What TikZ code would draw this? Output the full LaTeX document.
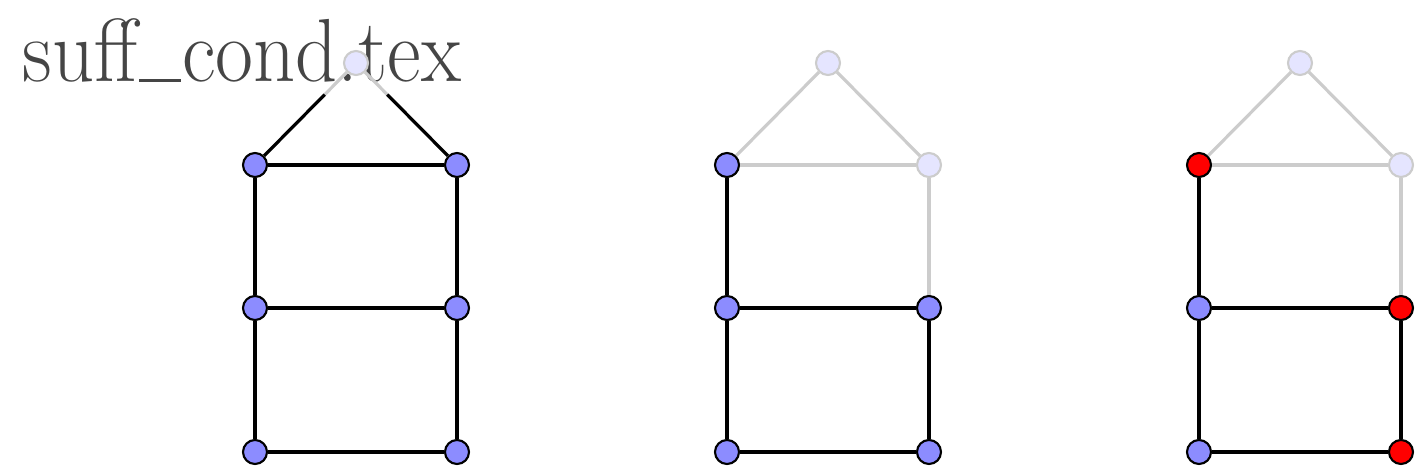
\documentclass[tikz,border=0pt]{standalone}
\usepackage{graphicx}
\usepackage{tikz}
\usetikzlibrary{calc}
\tikzset{
  vtx/.style={circle, draw=black, line width=0.6pt, fill=blue!45,
    minimum size=0.24cm, inner sep=0pt},
  vfade/.style={vtx, draw=black!20, fill=blue!10},
  vred/.style={vtx, fill=red},
  link/.style={draw=black, line width=0.9pt},
  linkfade/.style={draw=black!20, line width=0.9pt}
}
\newcommand{\uscore}{\kern0.02em\rule{0.5em}{0.75pt}\kern0.02em}

\begin{document}
\begin{tikzpicture}
\useasboundingbox (0,0) rectangle (14.23,4.73);

% File name
\node[anchor=base west, inner sep=0pt, text=black!73,
  font=\fontsize{25.5}{30}\selectfont] (fname) at (0.22,3.91)
  {\scalebox{0.92}[1]{suff\uscore cond.tex}};

% ── First graph ──────────────────────────────────────────────
\node[vfade] (a-top) at (3.56,4.10) {};
\node[vtx]   (a-ul)  at (2.55,3.08) {};
\node[vtx]   (a-ur)  at (4.57,3.08) {};
\node[vtx]   (a-ml)  at (2.55,1.65) {};
\node[vtx]   (a-mr)  at (4.57,1.65) {};
\node[vtx]   (a-bl)  at (2.55,0.21) {};
\node[vtx]   (a-br)  at (4.57,0.21) {};

\draw[linkfade] (a-top) -- (a-ul);
\draw[linkfade] (a-top) -- (a-ur);
\draw[linkfade] (a-ul) -- (a-ur);
\draw[link] (a-ul) -- ($(a-top)!0.31!(a-ul)$);
\draw[link] (a-ur) -- ($(a-top)!0.31!(a-ur)$);
\draw[link] (a-ul) -- (a-ur);
\draw[link] (a-ul) -- (a-ml) -- (a-bl) -- (a-br) -- (a-mr) -- (a-ur);
\draw[link] (a-ml) -- (a-mr);

% ── Second graph ──────────────────────────────────────────────
\node[vfade] (b-top) at (8.28,4.10) {};
\node[vtx]   (b-ul)  at (7.27,3.08) {};
\node[vfade] (b-ur)  at (9.29,3.08) {};
\node[vtx]   (b-ml)  at (7.27,1.65) {};
\node[vtx]   (b-mr)  at (9.29,1.65) {};
\node[vtx]   (b-bl)  at (7.27,0.21) {};
\node[vtx]   (b-br)  at (9.29,0.21) {};

\draw[linkfade] (b-top) -- (b-ul);
\draw[linkfade] (b-top) -- (b-ur);
\draw[linkfade] (b-ul) -- (b-ur);
\draw[linkfade] (b-ur) -- (b-mr);
\draw[link] (b-ul) -- (b-ml) -- (b-bl) -- (b-br) -- (b-mr);
\draw[link] (b-ml) -- (b-mr);

% ── Third graph ──────────────────────────────────────────────
\node[vfade] (c-top) at (13.00,4.10) {};
\node[vred]  (c-ul)  at (11.99,3.08) {};
\node[vfade] (c-ur)  at (14.01,3.08) {};
\node[vtx]   (c-ml)  at (11.99,1.65) {};
\node[vred]  (c-mr)  at (14.01,1.65) {};
\node[vtx]   (c-bl)  at (11.99,0.21) {};
\node[vred]  (c-br)  at (14.01,0.21) {};

\draw[linkfade] (c-top) -- (c-ul);
\draw[linkfade] (c-top) -- (c-ur);
\draw[linkfade] (c-ul) -- (c-ur);
\draw[linkfade] (c-ur) -- (c-mr);
\draw[link] (c-ul) -- (c-ml) -- (c-bl) -- (c-br) -- (c-mr);
\draw[link] (c-ml) -- (c-mr);

\end{tikzpicture}
\end{document}
